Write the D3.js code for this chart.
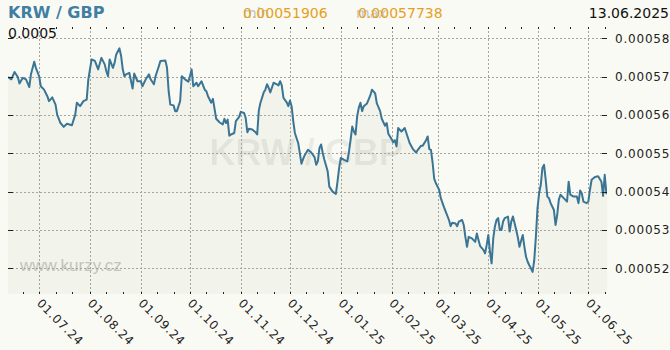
<!DOCTYPE html>
<html>
<head>
<meta charset="utf-8">
<script src="https://cdn.jsdelivr.net/npm/d3@7"></script>
<style>
	body { margin: 0; background: #fafaf5; }
	svg { display: block; font-family: "DejaVu Sans", sans-serif; }
</style>
</head>
<body>
<div id="chart"></div>
<script>
// KRW / GBP daily rate, one row per month
var months = ['2024-06', '2024-07', '2024-08', '2024-09', '2024-10', '2024-11', '2024-12',
	'2025-01', '2025-02', '2025-03', '2025-04', '2025-05', '2025-06'];

var days = [
	[12, 14, 16, 18, 19, 21, 23, 25, 26, 28, 29],
	[1, 2, 4, 6, 7, 9, 11, 12, 14, 16, 18, 21, 23, 24, 26, 28, 30, 31],
	[2, 4, 6, 8, 10, 11, 12, 13, 15, 16, 17, 19, 20, 21, 22, 23, 25, 27, 28, 30],
	[1, 2, 4, 6, 7, 9, 10, 12, 13, 16, 17, 18, 19, 21, 22, 23, 25, 26, 28, 30],
	[1, 2, 3, 5, 6, 8, 10, 11, 12, 14, 15, 16, 17, 19, 21, 22, 23, 24, 25, 26, 28, 29, 31],
	[1, 3, 4, 5, 6, 8, 10, 11, 12, 13, 15, 16, 17, 18, 19, 21, 23, 24, 25, 26, 27, 29, 30],
	[1, 2, 3, 4, 6, 7, 8, 9, 10, 12, 14, 16, 17, 18, 19, 20, 21, 22, 24, 25, 27, 29, 30, 31],
	[1, 3, 5, 6, 7, 8, 9, 10, 11, 12, 13, 14, 15, 17, 19, 20, 22, 23, 25, 26, 28, 29, 30],
	[1, 2, 3, 4, 5, 7, 9, 11, 12, 14, 16, 17, 19, 20, 22, 23, 24, 25, 26, 27, 28],
	[2, 3, 5, 6, 8, 9, 10, 12, 13, 14, 16, 17, 18, 19, 20, 22, 24, 25, 26, 27, 29, 30, 31],
	[1, 2, 3, 4, 5, 6, 7, 8, 9, 10, 11, 13, 14, 15, 16, 17, 18, 19, 20, 21, 22, 23, 24, 25, 26, 27, 28, 29, 30],
	[1, 2, 3, 4, 5, 6, 7, 8, 9, 11, 12, 13, 14, 15, 17, 19, 20, 21, 23, 25, 26, 27, 28, 29, 31],
	[1, 2, 3, 5, 7, 9, 10, 11, 12, 13]
];

var rates = [
	[0.0005699, 0.0005693, 0.0005712, 0.0005699, 0.0005682, 0.0005697, 0.0005693, 0.0005673, 0.0005706, 0.0005739, 0.0005723],
	[0.0005701, 0.0005675, 0.0005666, 0.0005649, 0.0005636, 0.0005646, 0.0005627, 0.0005601, 0.0005579, 0.0005569, 0.0005577, 0.0005573,
		0.0005601, 0.0005632, 0.0005623, 0.0005636, 0.000564, 0.0005693],
	[0.0005745, 0.0005741, 0.0005719, 0.0005749, 0.0005732, 0.0005714, 0.0005701, 0.0005745, 0.0005723, 0.0005736, 0.0005758, 0.00057738,
		0.0005754, 0.0005719, 0.0005701, 0.0005706, 0.000571, 0.0005669, 0.0005708, 0.0005688],
	[0.0005688, 0.0005675, 0.0005693, 0.0005706, 0.0005693, 0.000568, 0.0005701, 0.0005727, 0.0005741, 0.0005742, 0.0005723, 0.0005662,
		0.0005627, 0.0005625, 0.000561, 0.000561, 0.0005636, 0.0005701, 0.0005693, 0.0005687],
	[0.0005701, 0.0005719, 0.0005675, 0.0005684, 0.0005675, 0.0005688, 0.0005666, 0.0005662, 0.0005649, 0.0005632, 0.0005642, 0.0005616,
		0.000559, 0.0005581, 0.0005575, 0.000559, 0.0005579, 0.0005588, 0.0005546, 0.0005549, 0.0005553, 0.0005584, 0.0005595],
	[0.0005608, 0.0005605, 0.0005592, 0.0005555, 0.0005564, 0.0005562, 0.0005555, 0.0005549, 0.0005612, 0.0005632, 0.0005659, 0.0005666,
		0.000568, 0.0005671, 0.0005659, 0.0005684, 0.000568, 0.0005677, 0.0005688, 0.0005677, 0.0005645, 0.0005633, 0.0005623],
	[0.0005638, 0.0005623, 0.0005584, 0.0005553, 0.0005527, 0.0005501, 0.0005473, 0.0005485, 0.0005495, 0.0005509, 0.0005502, 0.000549,
		0.000547, 0.0005479, 0.0005514, 0.0005523, 0.0005501, 0.0005483, 0.0005453, 0.0005413, 0.00054, 0.0005394, 0.0005426, 0.0005462],
	[0.0005488, 0.0005483, 0.0005479, 0.0005505, 0.0005536, 0.000557, 0.0005557, 0.0005549, 0.0005597, 0.0005619, 0.0005632, 0.000561,
		0.0005623, 0.000563, 0.0005651, 0.0005666, 0.0005656, 0.000563, 0.000561, 0.000559, 0.0005572, 0.0005579, 0.0005551],
	[0.0005537, 0.0005529, 0.0005534, 0.0005518, 0.0005566, 0.0005557, 0.0005566, 0.000554, 0.0005527, 0.0005511, 0.0005502, 0.0005509,
		0.000552, 0.000552, 0.0005534, 0.0005544, 0.0005511, 0.0005509, 0.0005476, 0.0005433, 0.0005422],
	[0.0005405, 0.0005383, 0.0005359, 0.0005348, 0.0005326, 0.000531, 0.0005319, 0.0005317, 0.000531, 0.0005322, 0.0005326, 0.0005313,
		0.0005282, 0.0005256, 0.0005282, 0.0005278, 0.0005269, 0.0005291, 0.0005274, 0.0005258, 0.0005248, 0.0005239, 0.0005261],
	[0.0005287, 0.0005243, 0.0005213, 0.0005278, 0.0005309, 0.0005326, 0.0005331, 0.00053, 0.00053, 0.0005322, 0.0005331, 0.0005335,
		0.0005296, 0.0005322, 0.0005335, 0.0005318, 0.00053, 0.0005281, 0.0005256, 0.0005272, 0.0005287, 0.0005256, 0.000523, 0.0005217,
		0.0005208, 0.00052, 0.00051906, 0.0005221, 0.0005282],
	[0.0005357, 0.0005396, 0.0005418, 0.0005462, 0.000547, 0.0005431, 0.0005387, 0.0005383, 0.000537, 0.0005352, 0.0005313, 0.0005339,
		0.0005379, 0.0005392, 0.0005383, 0.0005374, 0.0005426, 0.0005392, 0.0005387, 0.0005387, 0.000537, 0.0005403, 0.0005396, 0.0005374, 0.000537],
	[0.0005374, 0.0005405, 0.0005431, 0.0005438, 0.000544, 0.0005426, 0.0005389, 0.0005444, 0.0005396, 0.0005409]
];

var yTicks = [0.00052, 0.00053, 0.00054, 0.00055, 0.00056, 0.00057, 0.00058];
var pairName = 'KRW / GBP',
	lastDate = '13.06.2025',
	scaleLabel = '0.0005',
	minRate = 0.00051906,
	maxRate = 0.00057738,
	startDay = '2024-06-12',
	endDay = '2025-06-13';

var parse = d3.utcParse('%Y-%m-%d');

var data = [];
months.forEach(function(m, i) {
	days[i].forEach(function(d, j) {
		data.push({ date: parse(m + '-' + (d < 10 ? '0' : '') + d), rate: rates[i][j] });
	});
});

var width = 670, height = 350,
	plot = { left: 8, right: 607, top: 27, bottom: 294 };

var svg = d3.select('#chart').append('svg')
	.attr('width', width)
	.attr('height', height);

svg.append('rect')
	.attr('width', width)
	.attr('height', height)
	.attr('fill', '#fafaf5');

var x = d3.scaleUtc()
	.domain([parse(startDay), parse(endDay)])
	.range([8, 608]);

var y = d3.scaleLinear()
	.domain([0.00052, 0.00058])
	.range([268.3, 38.3]);

svg.append('clipPath').attr('id', 'plot-clip')
	.append('rect')
	.attr('x', plot.left).attr('y', plot.top)
	.attr('width', plot.right - plot.left)
	.attr('height', plot.bottom - plot.top);

var area = d3.area()
	.x(function(d) { return x(d.date) })
	.y0(plot.bottom)
	.y1(function(d) { return y(d.rate) });

var line = d3.line()
	.x(function(d) { return x(d.date) })
	.y(function(d) { return y(d.rate) });

svg.append('path')
	.datum(data)
	.attr('clip-path', 'url(#plot-clip)')
	.attr('d', area)
	.attr('fill', '#f2f3ea');

// watermark
svg.append('text')
	.attr('x', 306).attr('y', 165)
	.attr('text-anchor', 'middle')
	.style('font-family', '"Liberation Sans", Arial, sans-serif')
	.style('font-weight', 'bold')
	.style('font-size', '36px')
	.attr('fill', '#000')
	.attr('fill-opacity', 0.07)
	.text(pairName);

svg.append('text')
	.attr('x', 20).attr('y', 271)
	.style('font-family', '"Liberation Sans", Arial, sans-serif')
	.style('font-size', '17px')
	.attr('fill', '#c3c3c0')
	.text('www.kurzy.cz');

var monthStarts = d3.utcMonth.range(x.domain()[0], x.domain()[1]);
var dekads = d3.utcDay.range(x.domain()[0], x.domain()[1])
	.filter(function(d) { var n = d.getUTCDate(); return n === 1 || n === 11 || n === 21; });

var grid = svg.append('g')
	.attr('stroke', '#a5a5a0')
	.attr('stroke-width', 1)
	.attr('stroke-dasharray', '2,2');

grid.selectAll('.hgrid')
	.data(yTicks)
	.enter()
	.append('line')
	.attr('x1', plot.left).attr('x2', plot.right)
	.attr('y1', function(d) { return Math.round(y(d)) + 0.5 })
	.attr('y2', function(d) { return Math.round(y(d)) + 0.5 });

grid.selectAll('.vgrid')
	.data(monthStarts)
	.enter()
	.append('line')
	.attr('y1', plot.top).attr('y2', plot.bottom)
	.attr('x1', function(d) { return Math.round(x(d)) + 0.5 })
	.attr('x2', function(d) { return Math.round(x(d)) + 0.5 });

svg.append('path')
	.datum(data)
	.attr('clip-path', 'url(#plot-clip)')
	.attr('d', line)
	.attr('fill', 'none')
	.attr('stroke', '#3a7595')
	.attr('stroke-width', 2)
	.attr('stroke-linejoin', 'round');

// small ticks
var ticks = svg.append('g').attr('stroke', '#222').attr('stroke-width', 1);

ticks.selectAll('.tick-top')
	.data(dekads)
	.enter()
	.append('line')
	.attr('x1', function(d) { return Math.round(x(d)) + 0.5 })
	.attr('x2', function(d) { return Math.round(x(d)) + 0.5 })
	.attr('y1', plot.top).attr('y2', plot.top + 2);

ticks.selectAll('.tick-bottom')
	.data(dekads)
	.enter()
	.append('line')
	.attr('x1', function(d) { return Math.round(x(d)) + 0.5 })
	.attr('x2', function(d) { return Math.round(x(d)) + 0.5 })
	.attr('y1', plot.bottom - 2).attr('y2', plot.bottom);

ticks.selectAll('.tick-left')
	.data(yTicks)
	.enter()
	.append('line')
	.attr('x1', plot.left).attr('x2', plot.left + 5)
	.attr('y1', function(d) { return Math.round(y(d)) + 0.5 })
	.attr('y2', function(d) { return Math.round(y(d)) + 0.5 });

ticks.selectAll('.tick-right')
	.data(yTicks)
	.enter()
	.append('line')
	.attr('x1', plot.right - 5).attr('x2', plot.right)
	.attr('y1', function(d) { return Math.round(y(d)) + 0.5 })
	.attr('y2', function(d) { return Math.round(y(d)) + 0.5 });

// axis labels
svg.selectAll('.ylabel')
	.data(yTicks)
	.enter()
	.append('text')
	.attr('x', 615)
	.attr('y', function(d) { return y(d) })
	.attr('dy', '0.36em')
	.style('font-size', '12px')
	.style('letter-spacing', '0.8px')
	.attr('fill', '#222')
	.text(d3.format('.5f'));

var fmtDay = d3.utcFormat('%d.%m.%y');
svg.selectAll('.xlabel')
	.data(monthStarts)
	.enter()
	.append('text')
	.attr('transform', function(d) { return 'translate(' + (x(d) - 3) + ',304) rotate(45)' })
	.style('font-size', '12px')
	.style('letter-spacing', '0.8px')
	.attr('fill', '#222')
	.text(fmtDay);

// header
svg.append('text')
	.attr('x', 8).attr('y', 18)
	.style('font-size', '16px')
	.style('font-weight', 'bold')
	.attr('fill', '#3f7fa3')
	.text(pairName);

svg.append('text')
	.attr('x', 243).attr('y', 18)
	.style('font-size', '14px')
	.attr('fill', '#c4c4c0')
	.text('min');

svg.append('text')
	.attr('x', 243).attr('y', 18)
	.style('font-size', '14px')
	.attr('fill', '#e4a11b')
	.text(d3.format('.8f')(minRate));

svg.append('text')
	.attr('x', 356).attr('y', 18)
	.style('font-size', '14px')
	.attr('fill', '#c4c4c0')
	.text('max');

svg.append('text')
	.attr('x', 358).attr('y', 18)
	.style('font-size', '14px')
	.attr('fill', '#e4a11b')
	.text(d3.format('.8f')(maxRate));

svg.append('text')
	.attr('x', 669).attr('y', 18)
	.attr('text-anchor', 'end')
	.style('font-size', '14px')
	.attr('fill', '#111')
	.text(lastDate);

svg.append('text')
	.attr('x', 8).attr('y', 38)
	.style('font-size', '14px')
	.attr('fill', '#111')
	.text(scaleLabel);
</script>
</body>
</html>
